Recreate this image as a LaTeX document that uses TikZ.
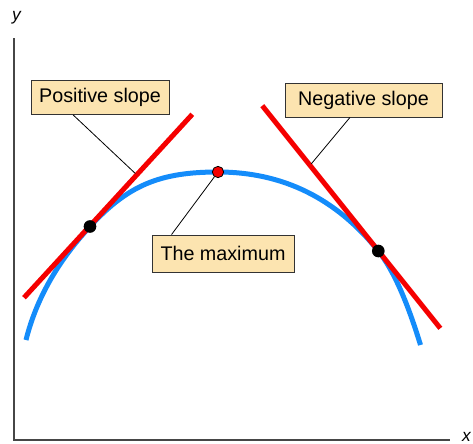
\documentclass[tikz,border=0pt]{standalone}
\usepackage{fontspec}
\usetikzlibrary{positioning,calc}
\newfontfamily\labelfont{Liberation Sans}
\definecolor{curveblue}{RGB}{20,140,250}
\definecolor{slopered}{RGB}{245,0,0}
\definecolor{boxtan}{RGB}{252,228,176}
\definecolor{axisgray}{RGB}{70,70,70}

\begin{document}
\begin{tikzpicture}[
        x=0.75pt, y=-0.75pt,
        tag/.style={draw=black!80, line width=0.7pt, fill=boxtan, inner sep=0pt,
            font=\labelfont\fontsize{14.8}{17}\selectfont, minimum height=25.5pt},
        axislabel/.style={font=\labelfont\itshape\fontsize{13}{15}\selectfont, anchor=base, inner sep=0pt},
        dot/.style={circle, fill=black, minimum size=9.5pt, inner sep=0pt},
        maxdot/.style={circle, draw=black, line width=0.6pt, fill=slopered, minimum size=8.5pt, inner sep=0pt},
        curve/.style={curveblue, line width=3.75pt},
        tangent/.style={slopered, line width=3.75pt},
        leader/.style={black, line width=0.6pt},
        axis/.style={axisgray, line width=1.1pt}
    ]
        \useasboundingbox (0,0) rectangle (473,443);

        % Axes
        \coordinate (origin) at (14,440);
        \coordinate (ytop) at (14,38);
        \coordinate (xend) at (450,440);
        \draw[axis] (ytop) -- (origin) -- (xend);
        \node[axislabel] (ylabel) at (16.5,20.5) {y};
        \node[axislabel] (xlabel) at (466.5,441) {x};

        % Labels
        \node[tag, minimum width=103.5pt] (posbox) at (100,97.5) {Positive slope};
        \node[tag, minimum width=117.75pt] (negbox) at (363.5,100) {Negative slope};
        \node[tag, minimum width=106.5pt, minimum height=27.75pt] (maxbox) at (223,253.5) {The maximum};

        % Curve
        \coordinate (pL) at (90,226.5);
        \coordinate (pMax) at (218,172);
        \coordinate (pR) at (378.3,251);
        \coordinate (cstart) at (26,340);
        \coordinate (cend) at (420.5,345);
        \draw[curve] (cstart) .. controls (36.1,299.5) and (57.5,261.5) .. (pL)
            .. controls (128,185.1) and (160,172) .. (pMax)
            .. controls (282.7,172) and (336.2,198.3) .. (pR)
            .. controls (393.1,269.5) and (407,300.9) .. (cend);

        % Tangents
        \coordinate (posA) at (24,297.7);
        \coordinate (posB) at (192.3,114.3);
        \coordinate (negA) at (262.3,105.7);
        \coordinate (negB) at (440.3,328.3);
        \draw[tangent] (posA) -- (posB);
        \draw[tangent] (negA) -- (negB);

        % Points
        \node[dot] (dotL) at (pL) {};
        \node[dot] (dotR) at (pR) {};
        \node[maxdot] (top) at (pMax) {};

        % Leaders
        \coordinate (posTouch) at ($(posA)!0.67!(posB)$);
        \coordinate (negTouch) at ($(negA)!0.268!(negB)$);
        \draw[leader, shorten >=1.5pt] ($(posbox.south west)!0.307!(posbox.south east)$) -- (posTouch);
        \draw[leader, shorten >=1.5pt] ($(negbox.south west)!0.414!(negbox.south east)$) -- (negTouch);
        \draw[leader] ($(maxbox.north west)!0.14!(maxbox.north east)$) -- (top);

    \end{tikzpicture}
\end{document}
